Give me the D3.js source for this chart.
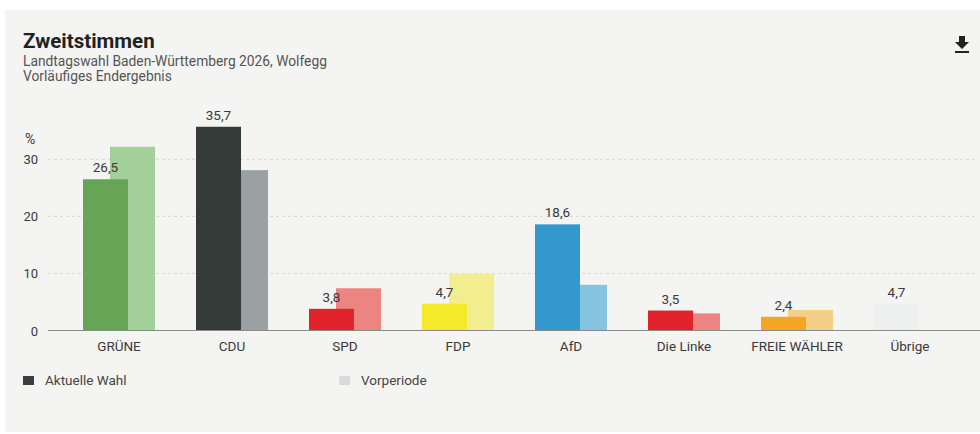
<!DOCTYPE html>
<html lang="de">
<head>
<meta charset="UTF-8">
<title>Zweitstimmen Wolfegg</title>
<script src="https://cdn.jsdelivr.net/npm/d3@7"></script>
<style>
  body { margin: 0; background: #fff; font-family: Roboto, "Noto Sans", sans-serif; }
  svg { display: block; }
  .tick text { fill: #3a3a3a; font-size: 13px; }
</style>
</head>
<body>
<svg id="chart" width="980" height="434"></svg>
<script>
// data
const parties = ["GRÜNE", "CDU", "SPD", "FDP", "AfD", "Die Linke", "FREIE WÄHLER", "Übrige"];
const current = [26.5, 35.7, 3.8, 4.7, 18.6, 3.5, 2.4, 4.7];
const previous = [32.2, 28.1, 7.4, 10.0, 8.0, 3.0, 3.6, null];
const currentColors = ["#66a556", "#333a38", "#e3232b", "#f5e92b", "#3399cc", "#e3232b", "#f4a623", "#eeefef"];
const previousColors = ["#a3cf9a", "#9ba0a3", "#ec8582", "#f2ee8f", "#86c3df", "#ec8582", "#f3cf88", "#eeefef"];
const yTicks = [0, 10, 20, 30];
const fmt = v => String(v).replace(".", ",");

const svg = d3.select("#chart");

// panel
svg.append("rect").attr("x", 5).attr("y", 10).attr("width", 975).attr("height", 422).attr("fill", "#f4f4f2");

// header
svg.append("text").attr("x", 23).attr("y", 48).attr("font-size", 20.5).attr("font-weight", 700)
  .attr("fill", "#222").text("Zweitstimmen");
svg.append("text").attr("x", 23).attr("y", 66).attr("font-size", 13.8).attr("fill", "#555")
  .text("Landtagswahl Baden-Württemberg 2026, Wolfegg");
svg.append("text").attr("x", 23).attr("y", 81).attr("font-size", 13.8).attr("fill", "#555")
  .text("Vorläufiges Endergebnis");

// download icon
const ic = svg.append("g").attr("transform", "translate(962,45)").attr("fill", "#222");
ic.append("path").attr("d", "M-3,-9 L3,-9 L3,-3 L7,-3 L0,4 L-7,-3 L-3,-3 Z");
ic.append("rect").attr("x", -7).attr("y", 6).attr("width", 14).attr("height", 2);

// scales
const x = d3.scaleBand().domain(parties).range([62.5, 966.5]).paddingInner(0.3628).paddingOuter(0.1814);
const y = d3.scaleLinear().domain([0, 30]).range([330.5, 159.3]);
const barW = x.bandwidth() * 45 / 72;
const prevOff = x.bandwidth() - barW;

// grid
svg.append("g").selectAll("line").data(yTicks.filter(t => t > 0)).join("line")
  .attr("x1", 48).attr("x2", 978).attr("y1", d => y(d)).attr("y2", d => y(d))
  .attr("stroke", "#d6d6d4").attr("stroke-dasharray", "3,3");

// y axis
const yAxis = svg.append("g").attr("transform", "translate(38,0)")
  .call(d3.axisLeft(y).tickValues(yTicks).tickSize(0).tickPadding(0));
yAxis.select(".domain").remove();
yAxis.selectAll("text").attr("font-family", "Roboto, sans-serif").attr("dy", "0.35em");
svg.append("text").attr("x", 25).attr("y", 144).attr("font-size", 14).attr("fill", "#3a3a3a").text("%");

const data = parties.map((p, i) => ({ p, cur: current[i], prev: previous[i], cc: currentColors[i], pc: previousColors[i] }));

// previous bars
svg.append("g").selectAll("rect").data(data.filter(d => d.prev != null)).join("rect")
  .attr("x", d => x(d.p) + prevOff).attr("width", barW)
  .attr("y", d => y(d.prev)).attr("height", d => y(0) - y(d.prev))
  .attr("fill", d => d.pc);

// current bars
svg.append("g").selectAll("rect").data(data).join("rect")
  .attr("x", d => x(d.p)).attr("width", barW)
  .attr("y", d => y(d.cur)).attr("height", d => y(0) - y(d.cur))
  .attr("fill", d => d.cc);

// value labels
svg.append("g").selectAll("text").data(data).join("text")
  .attr("x", d => x(d.p) + barW / 2).attr("y", d => y(d.cur) - 7)
  .attr("text-anchor", "middle").attr("font-size", 13.5).attr("fill", "#3a3a3a")
  .text(d => fmt(d.cur));

// x axis
const xAxis = svg.append("g").attr("transform", "translate(0,330.5)")
  .call(d3.axisBottom(x).tickSize(0).tickPadding(11));
xAxis.select(".domain").remove();
xAxis.selectAll("text").attr("font-family", "Roboto, sans-serif").style("font-size", "13.5px");
svg.append("line").attr("x1", 48).attr("x2", 980).attr("y1", 330.5).attr("y2", 330.5)
  .attr("stroke", "#8a8c8c").attr("stroke-width", 1.2);

// legend
const legend = [
  { label: "Aktuelle Wahl", color: "#3a4042", x: 23 },
  { label: "Vorperiode", color: "#d9dadb", x: 339 }
];
const lg = svg.append("g").selectAll("g").data(legend).join("g")
  .attr("transform", d => `translate(${d.x},375)`);
lg.append("rect").attr("width", 11).attr("height", 9).attr("y", 1).attr("fill", d => d.color);
lg.append("text").attr("x", 22).attr("y", 10).attr("font-size", 13.5).attr("fill", "#444").text(d => d.label);
</script>
</body>
</html>
